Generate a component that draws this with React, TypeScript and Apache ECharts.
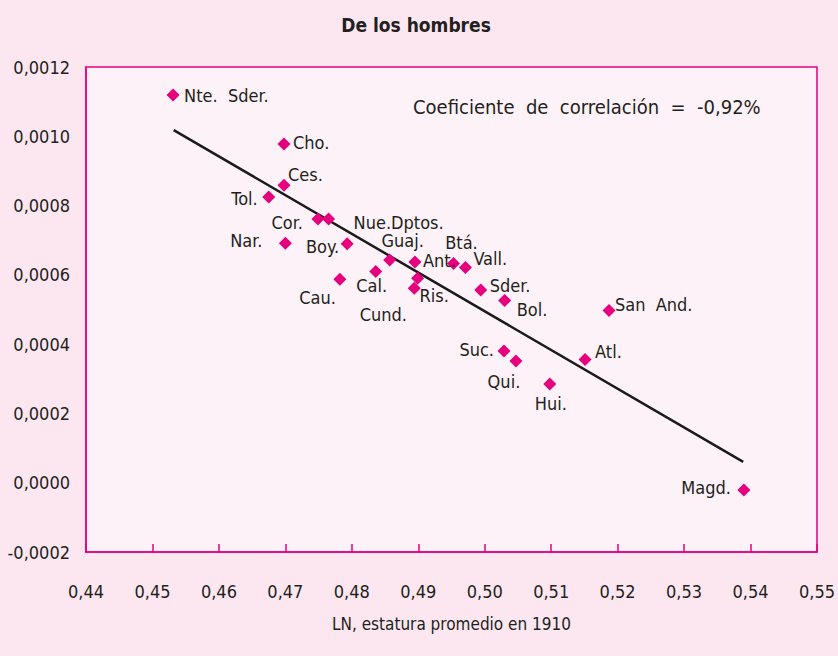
import React, { useEffect, useRef } from "react";
import * as echarts from "echarts";

const names = ["Nte.  Sder.", "Cho.", "Ces.", "Tol.", "Cor.", "Nue.Dptos.", "Nar.", "Boy.", "Cau.", "Cal.", "Cund.", "Ris.", "Guaj.", "Ant.", "Btá.", "Vall.", "Sder.", "Bol.", "Suc.", "Qui.", "Hui.", "Atl.", "San  And.", "Magd."];
const xValues = [0.4531, 0.4698, 0.4698, 0.4675, 0.4749, 0.4765, 0.4700, 0.4793, 0.4782, 0.4836, 0.4894, 0.4899, 0.4857, 0.4895, 0.4953, 0.4971, 0.4994, 0.5030, 0.5029, 0.5047, 0.5098, 0.5151, 0.5187, 0.5390];
const yValues = [0.001119, 0.000978, 0.000859, 0.000825, 0.000761, 0.000761, 0.000691, 0.000690, 0.000587, 0.000610, 0.000561, 0.000590, 0.000643, 0.000637, 0.000633, 0.000621, 0.000556, 0.000526, 0.000380, 0.000351, 0.000285, 0.000356, 0.000497, -0.000021];
const trendX = [0.4532, 0.5389];
const trendY = [0.001018, 0.00006];
const xTicks = [0.44, 0.45, 0.46, 0.47, 0.48, 0.49, 0.5, 0.51, 0.52, 0.53, 0.54, 0.55];
const yTicks = [-0.0002, 0, 0.0002, 0.0004, 0.0006, 0.0008, 0.001, 0.0012];

// label placement: [align, dx, dy]
const labelPlace: [string, number, number][] = [
  ["left", 11, 0], ["left", 9, -1], ["left", 4, -11], ["right", -11, 2],
  ["right", -15, 3], ["left", 25, 3], ["right", -23, -3], ["right", -8, 3],
  ["right", -4, 18], ["center", -4, 14], ["center", -31, 26], ["left", 2, 17],
  ["center", 13, -19], ["left", 8, -2], ["center", 8, -21], ["left", 8, -9],
  ["left", 9, -5], ["left", 12, 9], ["right", -10, -2], ["center", -12, 20],
  ["center", 1, 20], ["left", 10, -8], ["left", 6, -6], ["right", -13, -2],
];

const FONT = "'Liberation Sans Narrow', 'DejaVu Sans Condensed', Arial, sans-serif";
const TXT = "#231f20";
const MAG = "#e6007e";

export default function App() {
  const ref = useRef<HTMLDivElement>(null);
  useEffect(() => {
    document.body.style.margin = "0";
    const chart = echarts.init(ref.current!, null, { renderer: "svg" });
    const fmt = (v: number, d: number) => v.toFixed(d).replace(".", ",");
    const pts = names.map((n, i) => ({
      name: n,
      value: [xValues[i], yValues[i]],
      label: {
        show: true,
        position: "inside",
        formatter: n,
        align: labelPlace[i][0],
        verticalAlign: "middle",
        offset: [labelPlace[i][1], labelPlace[i][2]],
        color: TXT,
        fontSize: 18,
        fontFamily: FONT,
      },
    }));
    chart.setOption({
      animation: false,
      backgroundColor: "#fce7f1",
      title: {
        text: "De los hombres",
        left: 411,
        top: 10,
        textAlign: "center",
        textStyle: { fontSize: 19, fontWeight: "bold", color: TXT, fontFamily: FONT },
      },
      grid: {
        left: 86, right: 21, top: 67, bottom: 104,
        show: true, backgroundColor: "#fdf2f7", borderColor: MAG, borderWidth: 1.5,
      },
      xAxis: {
        type: "value",
        min: xTicks[0],
        max: xTicks[xTicks.length - 1],
        interval: 0.01,
        name: "LN, estatura promedio en 1910",
        nameLocation: "middle",
        nameGap: 63,
        nameTextStyle: { fontSize: 17, color: TXT, fontFamily: FONT },
        axisLine: { show: true, onZero: false, lineStyle: { color: MAG, width: 1.5 } },
        axisTick: { show: true, inside: true, length: 8, lineStyle: { color: MAG, width: 1.5 } },
        splitLine: { show: false },
        axisLabel: { formatter: (v: number) => fmt(v, 2), fontSize: 18, color: TXT, fontFamily: FONT, margin: 30 },
      },
      yAxis: {
        type: "value",
        min: yTicks[0],
        max: yTicks[yTicks.length - 1],
        interval: 0.0002,
        axisLine: { show: true, onZero: false, lineStyle: { color: MAG, width: 1.5 } },
        axisTick: { show: false },
        splitLine: { show: false },
        axisLabel: { formatter: (v: number) => fmt(v, 4), fontSize: 18, color: TXT, fontFamily: FONT, margin: 16 },
      },
      graphic: [
        {
          type: "text",
          left: 413,
          top: 97,
          style: {
            text: "Coeficiente  de  correlación  =  -0,92%",
            fontSize: 20,
            fill: TXT,
            fontFamily: FONT,
          },
        },
      ],
      series: [
        {
          type: "line",
          data: trendX.map((x, i) => [x, trendY[i]]),
          symbol: "none",
          lineStyle: { color: "#1a1a1a", width: 2.5 },
          z: 1,
        },
        {
          type: "scatter",
          symbol: "diamond",
          symbolSize: 13,
          itemStyle: { color: MAG, opacity: 1 },
          data: pts,
          z: 2,
        },
      ],
    });
    return () => chart.dispose();
  }, []);
  return <div ref={ref} style={{ width: 838, height: 656 }} />;
}
